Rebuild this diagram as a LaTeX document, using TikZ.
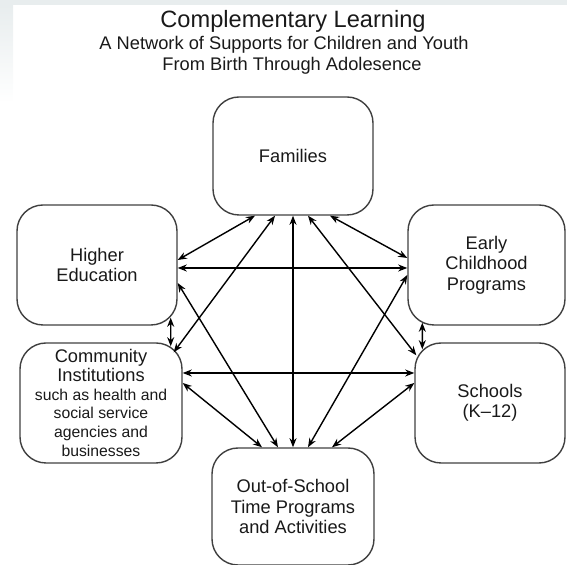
\documentclass[tikz,border=0pt]{standalone}
\usepackage{fontspec}
\setmainfont{Liberation Sans}
\usetikzlibrary{arrows.meta}
\definecolor{band}{HTML}{E8EDEE}
\newcommand\smalltxt{\fontsize{11.2}{13.4}\selectfont}
\begin{document}
\begin{tikzpicture}[
                    box/.style={draw=black!75,line width=1pt,rounded corners=0.65cm,align=center,inner sep=0pt,
                                text=black!90,font=\fontsize{13}{14.6}\selectfont},
                    link/.style={{Stealth[length=6.5pt,width=5pt]}-{Stealth[length=6.5pt,width=5pt]},line width=1pt}]
                    \useasboundingbox (0,0) rectangle (14.175,14.125);
                    \fill[band] (0,13.995) rectangle (14.175,14.125);
                    \shade[top color=band,bottom color=white] (0,11.55) rectangle (0.325,13.995);

                    \node[anchor=base,text=black!90,font=\fontsize{16.8}{20}\selectfont] (T) at (7.325,13.425) {Complementary Learning};
                    \node[anchor=base,text=black!90,font=\fontsize{13}{15}\selectfont] (ST1) at (7.1,12.875) {A Network of Supports for Children and Youth};
                    \node[anchor=base,text=black!90,font=\fontsize{13}{15}\selectfont] (ST2) at (7.3,12.35) {From Birth Through Adolesence};

                    \node[box,minimum width=4cm,minimum height=2.95cm] (F) at (7.325,10.225) {Families};
                    \node[box,minimum width=4cm,minimum height=3cm] (HE) at (2.425,7.5) {Higher\\Education};
                    \node[box,minimum width=4.05cm,minimum height=3cm,font=\fontsize{13}{13.4}\selectfont] (CI) at (2.525,4.05)
                        {Community\\Institutions\\\smalltxt such as health and\\\smalltxt social service\\\smalltxt agencies and\\\smalltxt businesses};
                    \node[box,minimum width=3.925cm,minimum height=3cm] (EC) at (12.1625,7.5) {Early\\Childhood\\Programs};
                    \node[box,minimum width=3.75cm,minimum height=3cm] (SC) at (12.25,4.05) {Schools\\(K–12)};
                    \node[box,minimum width=4.05cm,minimum height=2.925cm] (OS) at (7.325,1.4625) {Out-of-School\\Time Programs\\and Activities};

                    \draw[link] ([xshift=-0.95cm]F.south) -- ([yshift=0.125cm]HE.east);
                    \draw[link] ([xshift=-0.45cm]F.south) -- ([xshift=-0.225cm,yshift=-0.25cm]CI.north east);
                    \draw[link] (F.south) -- (OS.north);
                    \draw[link] ([xshift=0.375cm]F.south) -- ([xshift=0.05cm,yshift=-0.325cm]SC.north west);
                    \draw[link] ([xshift=0.925cm]F.south) -- ([yshift=0.175cm]EC.west);
                    \draw[link] ([yshift=-0.075cm]HE.east) -- ([yshift=-0.075cm]EC.west);
                    \draw[link] ([yshift=-0.45cm]HE.east) -- ([xshift=-0.375cm]OS.north);
                    \draw[link] ([xshift=-0.175cm,yshift=0.2cm]HE.south east) -- ([xshift=-0.3cm,yshift=-0.1cm]CI.north east);
                    \draw[link] ([yshift=0.75cm]CI.east) -- ([yshift=0.75cm]SC.west);
                    \draw[link] ([yshift=0.5cm]CI.east) -- ([xshift=-0.775cm]OS.north);
                    \draw[link] ([xshift=0.375cm,yshift=0.075cm]EC.south west) -- ([xshift=0.2cm,yshift=-0.175cm]SC.north west);
                    \draw[link] ([yshift=-0.25cm]EC.west) -- ([xshift=0.375cm]OS.north);
                    \draw[link] ([yshift=0.5cm]SC.west) -- ([xshift=0.975cm]OS.north);
                \end{tikzpicture}
\end{document}
